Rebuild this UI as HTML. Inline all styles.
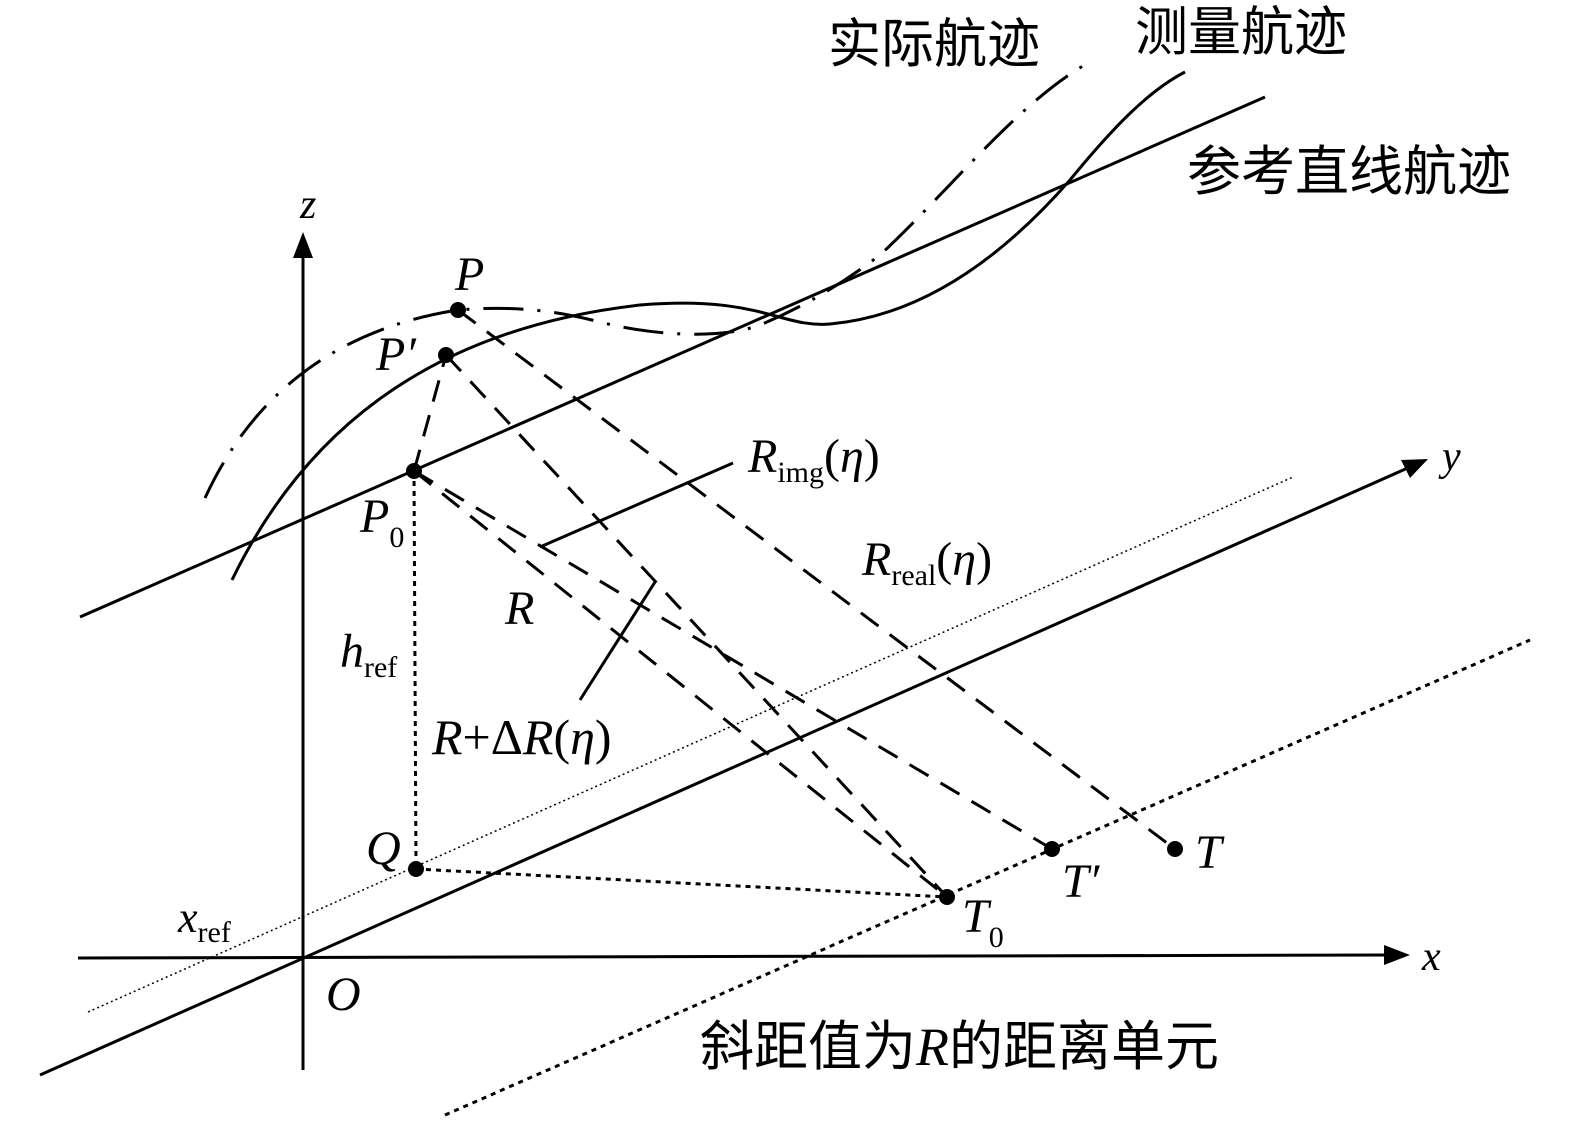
<!DOCTYPE html>
<html><head><meta charset="utf-8"><style>
html,body{margin:0;padding:0;background:#fff;}
svg{display:block}
.t{font-family:"Liberation Serif",serif;font-style:italic;fill:#000}
.s{font-family:"Liberation Serif",serif;fill:#000}
.c{font-family:"Liberation Sans","Noto Sans CJK SC",sans-serif;fill:#000}
</style></head><body>
<svg width="1575" height="1128" viewBox="0 0 1575 1128" xmlns="http://www.w3.org/2000/svg">
<g stroke="#000" fill="none" stroke-width="3">
<line x1="78" y1="958" x2="1390" y2="955"/>
<polygon points="1410,955 1384,945 1384,965" fill="#000" stroke="none"/>
<line x1="303" y1="1070" x2="303" y2="255"/>
<polygon points="303,232 293,258 313,258" fill="#000" stroke="none"/>
<line x1="40" y1="1075" x2="1410" y2="467"/>
<polygon points="1428,459 1401,460 1410,478" fill="#000" stroke="none"/>
<line x1="80" y1="617" x2="1265" y2="97"/>
<line x1="88" y1="1012" x2="1293" y2="477" stroke-width="1.5" stroke-dasharray="2,3"/>
<line x1="445" y1="1115" x2="1530" y2="640" stroke-dasharray="5,5"/>
<path d="M232,580 C300,440 420,330 640,305 C760,295 780,328 830,324 C920,316 1000,260 1070,180 C1115,125 1150,90 1185,72"/>
<path d="M205,498 C250,400 330,330 458,310 C520,305 560,312 600,322 C650,335 720,340 760,325 C820,300 860,270 880,255 C950,190 1020,100 1090,62" stroke-dasharray="40,14,3,14"/>
<g stroke-dasharray="22,14">
<line x1="414" y1="471" x2="446" y2="355"/>
<line x1="458" y1="310" x2="1175" y2="849"/>
<line x1="446" y1="355" x2="947" y2="897"/>
<line x1="414" y1="471" x2="1052" y2="849"/>
<line x1="414" y1="471" x2="947" y2="897"/>
</g>
<line x1="414" y1="471" x2="416" y2="869" stroke-dasharray="5,5"/>
<line x1="416" y1="869" x2="947" y2="897" stroke-dasharray="5,5"/>
<line x1="540" y1="547" x2="733" y2="463"/>
<line x1="580" y1="700" x2="655" y2="582"/>
</g>
<g fill="#000">
<circle cx="458" cy="310" r="8"/><circle cx="446" cy="355" r="8"/><circle cx="414" cy="471" r="8"/>
<circle cx="416" cy="869" r="8"/><circle cx="947" cy="897" r="8"/><circle cx="1052" cy="849" r="8"/><circle cx="1175" cy="849" r="8"/>
</g>
<text class="c" x="828" y="62" font-size="53">实际航迹</text>
<text class="c" x="1135" y="50" font-size="53">测量航迹</text>
<text class="c" x="1187" y="190" font-size="54">参考直线航迹</text>
<text class="c" x="700" y="1065" font-size="54">斜距值为<tspan class="t">R</tspan>的距离单元</text>
<text class="t" x="300" y="218" font-size="42">z</text>
<text class="t" x="1442" y="470" font-size="42">y</text>
<text class="t" x="1422" y="970" font-size="42">x</text>
<text class="t" x="326" y="1010" font-size="48">O</text>
<text class="t" x="455" y="290" font-size="48">P</text>
<text class="t" x="376" y="370" font-size="48">P′</text>
<text class="t" x="360" y="532" font-size="48">P<tspan class="s" font-size="30" font-style="normal" dy="15">0</tspan></text>
<text class="t" x="366" y="864" font-size="48">Q</text>
<text class="t" x="1195" y="868" font-size="48">T</text>
<text class="t" x="1062" y="897" font-size="48">T′</text>
<text class="t" x="962" y="932" font-size="48">T<tspan class="s" font-size="30" font-style="normal" dy="15">0</tspan></text>
<text class="t" x="505" y="624" font-size="48">R</text>
<text class="t" x="340" y="667" font-size="48">h<tspan class="s" font-size="30" font-style="normal" dy="10">ref</tspan></text>
<text class="t" x="178" y="932" font-size="44">x<tspan class="s" font-size="30" font-style="normal" dy="10">ref</tspan></text>
<text class="t" x="748" y="472" font-size="48">R<tspan class="s" font-size="30" font-style="normal" dy="10">img</tspan><tspan class="s" font-style="normal" dy="-10">(</tspan>η<tspan class="s" font-style="normal">)</tspan></text>
<text class="t" x="862" y="575" font-size="48">R<tspan class="s" font-size="30" font-style="normal" dy="10">real</tspan><tspan class="s" font-style="normal" dy="-10">(</tspan>η<tspan class="s" font-style="normal">)</tspan></text>
<text class="t" x="432" y="754" font-size="50">R<tspan class="s" font-style="normal">+Δ</tspan>R<tspan class="s" font-style="normal">(</tspan>η<tspan class="s" font-style="normal">)</tspan></text>
</svg>
</body></html>
